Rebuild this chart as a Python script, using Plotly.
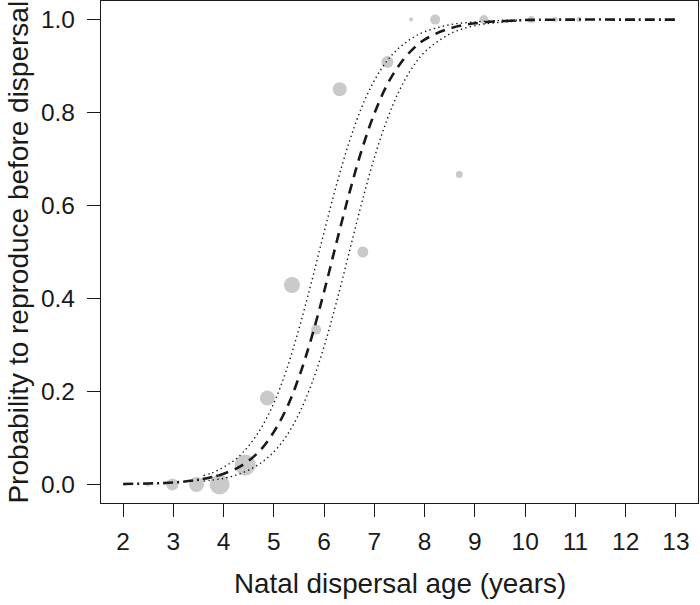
import plotly.graph_objects as go

# Observed data (binned): natal dispersal age, proportion, marker diameter (sample size proxy)
age = [2.03, 2.49, 2.98, 3.46, 3.92, 4.43, 4.87, 5.36, 5.84, 6.31, 6.77, 7.26, 7.73, 8.21, 8.69, 9.18, 10.12, 10.6, 11.07]
prop = [0.0, 0.0, 0.0, 0.0, 0.0, 0.042, 0.186, 0.429, 0.333, 0.85, 0.5, 0.909, 1.0, 1.0, 0.667, 1.0, 1.0, 1.0, 1.0]
n_size = [3, 4, 12, 15, 20, 21, 15, 16, 10, 14, 11, 12, 4, 10, 7, 9, 7, 5, 5]

# Fitted curve
fit_x = [2.0, 2.5, 3.0, 3.5, 3.9, 4.25, 4.5, 4.75, 5.0, 5.25, 5.5, 5.75, 6.0, 6.25, 6.5, 6.75,
         7.0, 7.25, 7.5, 7.75, 8.0, 8.5, 9.0, 9.6, 10.0, 11.0, 12.0, 13.0]
fit_p = [0.001, 0.002, 0.004, 0.010, 0.019, 0.034, 0.051, 0.076, 0.113, 0.163, 0.231, 0.316, 0.415,
         0.522, 0.626, 0.720, 0.798, 0.859, 0.903, 0.935, 0.957, 0.981, 0.992, 0.997, 0.999, 1.0, 1.0, 1.0]

# Confidence band
ci_x = [3.6, 3.75, 4.0, 4.25, 4.5, 4.75, 5.0, 5.25, 5.5, 5.75, 6.0, 6.25, 6.5, 6.75, 7.0, 7.25,
        7.5, 7.75, 8.0, 8.5, 9.0, 9.5, 9.9]
ci_hi = [0.019, 0.024, 0.037, 0.055, 0.083, 0.122, 0.175, 0.246, 0.335, 0.436, 0.543, 0.646, 0.737,
         0.812, 0.869, 0.911, 0.940, 0.960, 0.974, 0.989, 0.995, 0.998, 0.999]
ci_lo = [0.007, 0.009, 0.013, 0.020, 0.031, 0.047, 0.070, 0.104, 0.152, 0.216, 0.297, 0.394, 0.500,
         0.606, 0.703, 0.784, 0.848, 0.896, 0.930, 0.969, 0.987, 0.994, 0.997]

x_ticks = [2, 3, 4, 5, 6, 7, 8, 9, 10, 11, 12, 13]
y_ticks = [0.0, 0.2, 0.4, 0.6, 0.8, 1.0]
y_ticklabels = ["0.0", "0.2", "0.4", "0.6", "0.8", "1.0"]

i_lo = fit_x.index(3.9)
i_hi = fit_x.index(9.6)

FONT = "Liberation Sans, Arial, Helvetica, sans-serif"
DARK = "#1a1a1a"

fig = go.Figure()

fig.add_trace(go.Scatter(
    x=age, y=prop, mode="markers",
    marker=dict(size=n_size, color="#b3b3b3", line=dict(width=0)),
    hoverinfo="skip", showlegend=False))

for ys in (ci_hi, ci_lo):
    fig.add_trace(go.Scatter(
        x=ci_x, y=ys, mode="lines", line_shape="spline",
        line=dict(color=DARK, width=1.4, dash="1.4px,3.2px"),
        hoverinfo="skip", showlegend=False))

dashdot = "10px,4px,2px,4px"
fig.add_trace(go.Scatter(
    x=fit_x[:i_lo + 1], y=fit_p[:i_lo + 1], mode="lines", line_shape="spline",
    line=dict(color=DARK, width=2.6, dash=dashdot), hoverinfo="skip", showlegend=False))
fig.add_trace(go.Scatter(
    x=fit_x[i_lo:i_hi + 1], y=fit_p[i_lo:i_hi + 1], mode="lines", line_shape="spline",
    line=dict(color=DARK, width=2.6, dash="10px,7px"), hoverinfo="skip", showlegend=False))
fig.add_trace(go.Scatter(
    x=fit_x[i_hi:], y=fit_p[i_hi:], mode="lines", line_shape="spline",
    line=dict(color=DARK, width=2.6, dash=dashdot), hoverinfo="skip", showlegend=False))

fig.update_layout(
    width=700, height=605,
    margin=dict(l=101, r=2, t=1, b=102, autoexpand=False),
    paper_bgcolor="white", plot_bgcolor="white",
    font=dict(family=FONT, color=DARK),
    xaxis=dict(
        range=[1.56, 13.44], tickmode="array", tickvals=x_ticks,
        ticks="outside", ticklen=13, tickwidth=1.2, tickcolor=DARK,
        showline=True, linecolor=DARK, linewidth=1.3, mirror=True,
        showgrid=False, zeroline=False, automargin=False,
        tickfont=dict(size=24.5, family=FONT, color=DARK),
        ticklabelstandoff=3,
    ),
    yaxis=dict(
        range=[-0.04, 1.04], tickmode="array", tickvals=y_ticks, ticktext=y_ticklabels,
        ticks="outside", ticklen=13, tickwidth=1.2, tickcolor=DARK,
        showline=True, linecolor=DARK, linewidth=1.3, mirror=True,
        showgrid=False, zeroline=False, automargin=False,
        tickfont=dict(size=24.5, family=FONT, color=DARK),
        ticklabelstandoff=7,
    ),
    annotations=[
        dict(text="Natal dispersal age (years)", xref="paper", yref="paper",
             x=0.5, y=-0.125, xanchor="center", yanchor="top", showarrow=False,
             font=dict(size=27.8, family=FONT, color=DARK)),
        dict(text="Probability to reproduce before dispersal", xref="paper", yref="paper",
             x=-0.169, y=0.5, xanchor="left", yanchor="middle", textangle=-90, showarrow=False,
             font=dict(size=28, family=FONT, color=DARK)),
    ],
)

fig.write_html("out.html", config={"displayModeBar": False},
               post_script="document.body.style.margin='0';")
